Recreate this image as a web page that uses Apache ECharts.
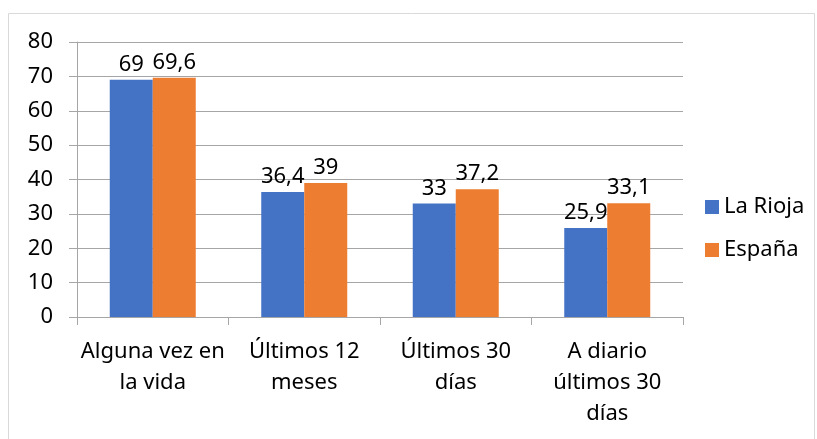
<!DOCTYPE html>
<html>
<head>
<meta charset="utf-8">
<script src="https://cdn.jsdelivr.net/npm/echarts@6/dist/echarts.min.js"></script>
<style>
  html, body { margin: 0; padding: 0; background: #fff; }
  #chart { width: 817px; height: 439px; }
</style>
</head>
<body>
<div id="chart"></div>
<script>
const categories = ["Alguna vez en\nla vida", "Últimos 12\nmeses", "Últimos 30\ndías", "A diario\núltimos 30\ndías"];
const laRioja = [69, 36.4, 33, 25.9];
const espana = [69.6, 39, 37.2, 33.1];
const yTicks = [0, 10, 20, 30, 40, 50, 60, 70, 80];

const FONT = "'Noto Sans', 'Open Sans', sans-serif";
const fmt = p => String(p.value).replace(".", ",");

const chart = echarts.init(document.getElementById("chart"));
chart.setOption({
  animation: false,
  textStyle: { fontFamily: FONT },
  graphic: [
    {
      type: "rect",
      shape: { x: 8.5, y: 13.5, width: 806, height: 440 },
      style: { fill: "none", stroke: "#d9d9d9", lineWidth: 1 }
    }
  ],
  grid: { left: 77, right: 134, top: 42, bottom: 122, containLabel: false },
  legend: {
    orient: "vertical",
    left: 700,
    top: 191,
    itemWidth: 14,
    itemHeight: 14,
    itemGap: 21,
    icon: "rect",
    textStyle: { fontSize: 22, color: "#000", fontFamily: FONT, padding: [0, 0, 0, 0] },
    data: ["La Rioja", "España"]
  },
  xAxis: {
    type: "category",
    data: categories,
    axisLine: { lineStyle: { color: "#a6a6a6" } },
    axisTick: { show: true, length: 8, lineStyle: { color: "#a6a6a6" } },
    axisLabel: { fontSize: 22, color: "#000", lineHeight: 31, margin: 19, interval: 0 }
  },
  yAxis: {
    type: "value",
    min: 0,
    max: 80,
    interval: 10,
    axisLine: { show: true, lineStyle: { color: "#a6a6a6" } },
    axisTick: { show: true, length: 8, lineStyle: { color: "#a6a6a6" } },
    axisLabel: { fontSize: 22, color: "#000", margin: 24,
      formatter: v => yTicks.indexOf(v) >= 0 ? String(v) : "" },
    splitLine: { lineStyle: { color: "#a6a6a6" } }
  },
  series: [
    {
      name: "La Rioja",
      type: "bar",
      data: laRioja,
      barWidth: 43,
      barGap: "0%",
      itemStyle: { color: "#4472c4" },
      label: { show: true, position: "top", fontSize: 22, color: "#000", distance: 4, formatter: fmt }
    },
    {
      name: "España",
      type: "bar",
      data: espana,
      barWidth: 43,
      barGap: "0%",
      itemStyle: { color: "#ed7d31" },
      label: { show: true, position: "top", fontSize: 22, color: "#000", distance: 4, formatter: fmt }
    }
  ]
});
</script>
</body>
</html>
